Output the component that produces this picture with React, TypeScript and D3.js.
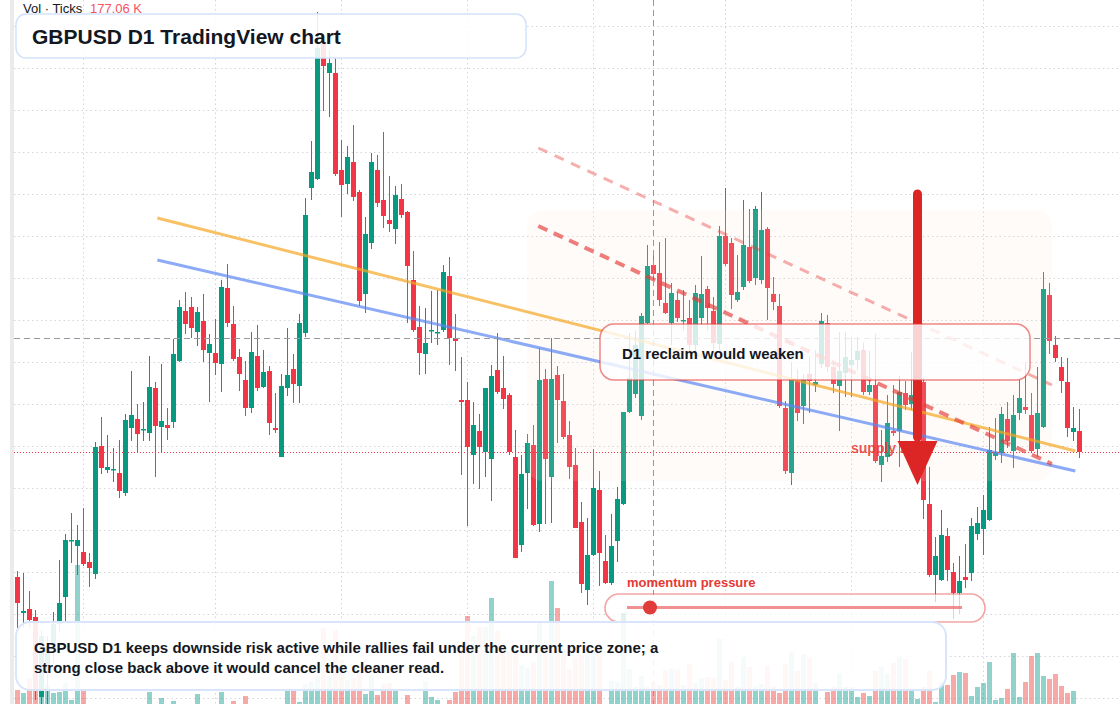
import * as d3 from 'd3';

// GBPUSD daily bars, oldest first
const opens = [
  1.2423,1.2387,1.2391,1.2383,1.2303,1.2328,1.2350,1.2376,1.2403,1.2459,
  1.2454,1.2448,1.2438,1.2426,1.2554,1.2530,1.2530,1.2527,1.2507,1.2572,
  1.2581,1.2570,1.2567,1.2612,1.2573,1.2575,1.2578,1.2639,1.2689,1.2693,
  1.2668,1.2679,1.2647,1.2647,1.2636,1.2712,1.2676,1.2643,1.2620,1.2592,
  1.2644,1.2613,1.2629,1.2572,1.2543,1.2612,1.2631,1.2614,1.2667,1.2812,
  1.2821,1.2956,1.2927,1.2927,1.2830,1.2816,1.2838,1.2808,1.2706,1.2757,
  1.2830,1.2800,1.2780,1.2771,1.2801,1.2788,1.2720,1.2673,1.2646,1.2669,
  1.2667,1.2670,1.2724,1.2662,1.2600,1.2600,1.2545,1.2569,1.2548,1.2541,
  1.2630,1.2612,1.2605,1.2543,1.2455,1.2527,1.2555,1.2476,1.2621,1.2523,
  1.2625,1.2599,1.2565,1.2535,1.2478,1.2410,1.2445,1.2510,1.2439,1.2417,
  1.2459,1.2496,1.2588,1.2606,1.2584,1.2677,1.2735,1.2727,1.2697,1.2677,
  1.2700,1.2679,1.2682,1.2655,1.2682,1.2711,1.2689,1.2656,1.2764,1.2757,
  1.2700,1.2713,1.2753,1.2722,1.2720,1.2771,1.2706,1.2694,1.2592,1.2527,
  1.2619,1.2594,1.2626,1.2615,1.2636,1.2677,1.2633,1.2614,1.2627,1.2635,
  1.2640,1.2650,1.2608,1.2615,1.2535,1.2543,1.2569,1.2569,1.2607,1.2596,
  1.2602,1.2618,1.2496,1.2425,1.2420,1.2464,1.2428,1.2407,1.2423,1.2427,
  1.2466,1.2471,1.2480,1.2544,1.2547,1.2581,1.2549,1.2587,1.2593,1.2585,
  1.2551,1.2573,1.2705,1.2655,1.2633,1.2618,1.2568,1.2569,
];
const highs = [
  1.2429,1.2427,1.2409,1.2390,1.2370,1.2364,1.2388,1.2440,1.2466,1.2487,
  1.2475,1.2492,1.2447,1.2558,1.2583,1.2565,1.2552,1.2560,1.2586,1.2629,
  1.2596,1.2598,1.2644,1.2618,1.2636,1.2592,1.2661,1.2700,1.2708,1.2703,
  1.2693,1.2706,1.2666,1.2681,1.2720,1.2736,1.2694,1.2651,1.2639,1.2668,
  1.2675,1.2650,1.2634,1.2607,1.2626,1.2672,1.2646,1.2686,1.2802,1.2859,
  1.2988,1.2960,1.2950,1.2942,1.2860,1.2854,1.2875,1.2810,1.2783,1.2847,
  1.2845,1.2868,1.2824,1.2814,1.2816,1.2789,1.2749,1.2694,1.2692,1.2709,
  1.2710,1.2735,1.2743,1.2686,1.2643,1.2618,1.2598,1.2586,1.2612,1.2635,
  1.2667,1.2644,1.2607,1.2570,1.2545,1.2566,1.2575,1.2652,1.2631,1.2662,
  1.2634,1.2626,1.2579,1.2552,1.2498,1.2482,1.2551,1.2529,1.2465,1.2486,
  1.2513,1.2588,1.2667,1.2670,1.2687,1.2755,1.2746,1.2758,1.2762,1.2717,
  1.2708,1.2710,1.2700,1.2715,1.2744,1.2714,1.2703,1.2774,1.2812,1.2762,
  1.2745,1.2800,1.2791,1.2794,1.2808,1.2773,1.2723,1.2706,1.2599,1.2638,
  1.2631,1.2626,1.2643,1.2650,1.2687,1.2685,1.2638,1.2668,1.2668,1.2663,
  1.2663,1.2657,1.2649,1.2666,1.2570,1.2605,1.2615,1.2624,1.2619,1.2648,
  1.2628,1.2622,1.2533,1.2463,1.2490,1.2472,1.2437,1.2444,1.2456,1.2482,
  1.2493,1.2505,1.2573,1.2582,1.2593,1.2598,1.2605,1.2620,1.2638,1.2607,
  1.2633,1.2728,1.2717,1.2664,1.2643,1.2642,1.2593,1.2591,
];
const lows = [
  1.2372,1.2372,1.2372,1.2300,1.2296,1.2296,1.2336,1.2368,1.2378,1.2437,
  1.2425,1.2434,1.2413,1.2421,1.2526,1.2527,1.2518,1.2502,1.2504,1.2559,
  1.2548,1.2559,1.2559,1.2523,1.2547,1.2560,1.2572,1.2638,1.2666,1.2662,
  1.2654,1.2638,1.2598,1.2625,1.2608,1.2673,1.2639,1.2609,1.2584,1.2587,
  1.2609,1.2612,1.2565,1.2567,1.2543,1.2604,1.2597,1.2597,1.2663,1.2800,
  1.2820,1.2889,1.2883,1.2824,1.2783,1.2806,1.2799,1.2694,1.2687,1.2751,
  1.2793,1.2772,1.2768,1.2756,1.2782,1.2677,1.2668,1.2625,1.2626,1.2657,
  1.2655,1.2668,1.2635,1.2629,1.2525,1.2474,1.2516,1.2511,1.2523,1.2499,
  1.2606,1.2591,1.2545,1.2442,1.2448,1.2491,1.2474,1.2468,1.2476,1.2477,
  1.2557,1.2561,1.2521,1.2472,1.2407,1.2395,1.2444,1.2414,1.2416,1.2415,
  1.2438,1.2495,1.2587,1.2602,1.2580,1.2676,1.2717,1.2694,1.2686,1.2655,
  1.2678,1.2670,1.2648,1.2648,1.2675,1.2670,1.2650,1.2650,1.2734,1.2691,
  1.2698,1.2710,1.2717,1.2715,1.2716,1.2680,1.2690,1.2592,1.2526,1.2515,
  1.2579,1.2576,1.2587,1.2608,1.2632,1.2628,1.2607,1.2569,1.2603,1.2603,
  1.2630,1.2605,1.2605,1.2537,1.2518,1.2538,1.2564,1.2533,1.2590,1.2590,
  1.2580,1.2481,1.2423,1.2398,1.2419,1.2419,1.2381,1.2386,1.2412,1.2419,
  1.2460,1.2445,1.2479,1.2540,1.2537,1.2552,1.2532,1.2580,1.2586,1.2547,
  1.2543,1.2572,1.2646,1.2638,1.2607,1.2563,1.2559,1.2542,
];
const closes = [
  1.2397,1.2389,1.2380,1.2310,1.2364,1.2354,1.2376,1.2397,1.2460,1.2460,
  1.2460,1.2436,1.2432,1.2553,1.2532,1.2533,1.2531,1.2509,1.2580,1.2585,
  1.2566,1.2571,1.2613,1.2574,1.2579,1.2572,1.2646,1.2693,1.2676,1.2672,
  1.2688,1.2650,1.2656,1.2637,1.2713,1.2677,1.2641,1.2626,1.2592,1.2648,
  1.2612,1.2628,1.2577,1.2570,1.2614,1.2625,1.2616,1.2677,1.2785,1.2828,
  1.2952,1.2934,1.2937,1.2826,1.2815,1.2843,1.2803,1.2699,1.2766,1.2838,
  1.2797,1.2784,1.2776,1.2805,1.2785,1.2734,1.2670,1.2647,1.2657,1.2670,
  1.2668,1.2728,1.2662,1.2659,1.2598,1.2553,1.2575,1.2553,1.2612,1.2624,
  1.2608,1.2601,1.2548,1.2442,1.2526,1.2557,1.2475,1.2620,1.2541,1.2621,
  1.2600,1.2563,1.2533,1.2472,1.2416,1.2445,1.2512,1.2447,1.2417,1.2454,
  1.2501,1.2588,1.2622,1.2655,1.2684,1.2734,1.2726,1.2700,1.2687,1.2707,
  1.2682,1.2680,1.2655,1.2707,1.2706,1.2692,1.2657,1.2764,1.2736,1.2705,
  1.2708,1.2755,1.2719,1.2791,1.2770,1.2712,1.2698,1.2594,1.2529,1.2621,
  1.2587,1.2621,1.2619,1.2618,1.2679,1.2633,1.2616,1.2629,1.2643,1.2640,
  1.2649,1.2608,1.2615,1.2539,1.2544,1.2577,1.2567,1.2608,1.2595,1.2605,
  1.2614,1.2500,1.2425,1.2444,1.2465,1.2430,1.2407,1.2419,1.2420,1.2474,
  1.2477,1.2490,1.2550,1.2548,1.2586,1.2559,1.2585,1.2602,1.2590,1.2549,
  1.2587,1.2711,1.2659,1.2642,1.2619,1.2572,1.2572,1.2548,
];
// tick volume, thousands
const volumes = [
  52,46,76,52,70,62,46,48,66,32,
  302,52,16,20,14,18,12,16,20,14,
  18,12,48,18,36,14,30,20,16,18,
  44,16,14,18,48,16,30,18,40,16,
  18,14,20,16,22,52,52,28,64,70,
  80,176,80,172,112,72,76,88,44,80,
  42,64,66,52,20,42,18,20,70,38,
  32,20,32,48,142,200,160,178,178,236,
  170,138,128,126,102,96,108,188,140,270,
  216,134,94,116,122,134,128,146,18,70,
  68,206,94,58,80,58,68,62,92,94,
  92,62,104,66,76,78,76,154,72,108,
  58,118,98,60,64,102,60,46,104,128,
  90,124,116,66,18,48,58,86,58,58,
  38,46,40,90,98,86,106,118,114,50,
  34,58,90,28,68,62,82,88,86,40,
  58,66,108,32,36,54,126,38,68,120,
  126,80,74,84,60,46,50,16,
];

// bar index where each new month begins
const monthStarts = [11, 33, 54, 75, 96, 118, 139, 161];

// drawn levels as [bar index, price]
const orangeTrend = [[23.3, 1.2782], [176.3, 1.2549]];
const blueTrend = [[23.3, 1.2740], [176.3, 1.2529]];
const channelTop = [[86.8, 1.2852], [172.4, 1.2615]];
const channelMid = [[86.8, 1.2774], [172.4, 1.2536]];
const zoneSpan = [84.9, 172.4];
const zonePrices = [1.2790, 1.2519];
const crossIndex = 106;
const crossPrice = 1.2662;
const arrowIndex = 150;
const arrowPrices = [1.2806, 1.2559, 1.2515];

const W = 1120;
const H = 704;
const UP = '#089981';
const DOWN = '#f23645';
const FONT = '"Liberation Sans", Arial, sans-serif';
const INK = '#131722';

export default function App() {
  const x = d3.scaleLinear().domain([0, 177]).range([17.5, 1079.5]);
  const y = d3.scaleLinear().domain([1.2, 1.3]).range([1000, 0]);
  const v = d3.scaleLinear().domain([0, 320]).range([716, 556]);
  const line = d3.line<number[]>().x(d => x(d[0])).y(d => y(d[1]));

  const bars = opens.map((o, i) => ({ i, o, h: highs[i], l: lows[i], c: closes[i], vol: volumes[i] }));
  const gridPrices = d3.range(17).map(k => 1.2974 - k * 0.0042);
  const last = closes[closes.length - 1];

  const ax = x(arrowIndex);
  const headW = 20;

  return (
    <svg width={W} height={H} style={{ position: 'absolute', left: 0, top: 0, background: '#fff' }}
      fontFamily={FONT}>
      <rect x={10} y={0} width={4} height={H} fill="#ebebeb" />

      {/* grid */}
      <g stroke="#d3d5da" strokeWidth={1} strokeDasharray="1.5 3">
        {gridPrices.map(p => (
          <line key={p} x1={14} x2={W} y1={Math.round(y(p)) + 0.5} y2={Math.round(y(p)) + 0.5} />
        ))}
        {monthStarts.map(m => (
          <line key={m} x1={x(m)} x2={x(m)} y1={0} y2={H} />
        ))}
      </g>

      {/* volume */}
      <g>
        {bars.map(b => (
          <rect key={b.i} x={x(b.i) - 2.5} width={5} y={v(b.vol)} height={v(0) - v(b.vol)}
            fill={b.c >= b.o ? 'rgba(38,166,154,0.5)' : 'rgba(239,83,80,0.5)'} />
        ))}
      </g>

      {/* candles */}
      <g>
        {bars.map(b => {
          const col = b.c >= b.o ? UP : DOWN;
          const top = y(Math.max(b.o, b.c));
          const bh = Math.max(1.5, Math.abs(y(b.o) - y(b.c)));
          return (
            <g key={b.i}>
              <line x1={x(b.i)} x2={x(b.i)} y1={y(b.h)} y2={y(b.l)} stroke={col} strokeWidth={1} />
              <rect x={x(b.i) - 2.5} width={5} y={top} height={bh} fill={col} />
            </g>
          );
        })}
      </g>

      {/* supply zone tint */}
      <rect x={x(zoneSpan[0])} y={y(zonePrices[0])} width={x(zoneSpan[1]) - x(zoneSpan[0])}
        height={y(zonePrices[1]) - y(zonePrices[0])} rx={16} fill="rgb(250,225,215)" opacity={0.14} />

      {/* trend lines */}
      <path d={line(orangeTrend) ?? ''} stroke="#f5a623" strokeOpacity={0.7} strokeWidth={3} fill="none" />
      <path d={line(blueTrend) ?? ''} stroke="#5b86f2" strokeOpacity={0.7} strokeWidth={3} fill="none" />
      <path d={line(channelTop) ?? ''} stroke="#e53935" strokeOpacity={0.4} strokeWidth={3}
        strokeDasharray="10 8" fill="none" />
      <path d={line(channelMid) ?? ''} stroke="#e53935" strokeOpacity={0.65} strokeWidth={4}
        strokeDasharray="10 7" fill="none" />

      {/* last price and crosshair */}
      <line x1={14} x2={W} y1={Math.round(y(last)) + 0.5} y2={Math.round(y(last)) + 0.5}
        stroke={DOWN} strokeWidth={1} strokeDasharray="1 2" />
      <g stroke="#9598a1" strokeWidth={1} strokeDasharray="6 4">
        <line x1={14} x2={W} y1={Math.round(y(crossPrice)) + 0.5} y2={Math.round(y(crossPrice)) + 0.5} />
        <line x1={x(crossIndex)} x2={x(crossIndex)} y1={0} y2={H} />
      </g>

      <text x={851} y={453} fontSize={14} fontWeight="bold" fill="#e53935" fillOpacity={0.85}>supply zone</text>

      {/* downside arrow */}
      <line x1={ax} x2={ax} y1={y(arrowPrices[0])} y2={y(arrowPrices[1]) - 4} stroke="#dc2626"
        strokeWidth={9} strokeLinecap="round" />
      <path d={`M${ax - headW},${y(arrowPrices[1])}L${ax + headW},${y(arrowPrices[1])}L${ax},${y(arrowPrices[2])}Z`}
        fill="#dc2626" />

      {/* reclaim note */}
      <rect x={600} y={324} width={430} height={56} rx={14} fill="rgba(255,255,255,0.8)"
        stroke="rgba(229,57,53,0.6)" strokeWidth={1.5} />
      <text x={622} y={359} fontSize={15} fontWeight="bold" fill={INK}>D1 reclaim would weaken</text>

      {/* momentum gauge */}
      <text x={627} y={587} fontSize={13} fontWeight="bold" fill="#e53935">momentum pressure</text>
      <rect x={605} y={594} width={380} height={28} rx={14} fill="rgba(255,255,255,0.72)"
        stroke="rgba(229,57,53,0.45)" strokeWidth={1.6} />
      <line x1={627} x2={962} y1={607.5} y2={607.5} stroke="#ef7c7c" strokeWidth={3} strokeOpacity={0.85} />
      <circle cx={650} cy={607.5} r={7} fill="#e23b3b" />

      {/* summary */}
      <rect x={16} y={622} width={930} height={68} rx={14} fill="rgba(255,255,255,0.9)"
        stroke="#d8e5fb" strokeWidth={2} />
      <text fontSize={15} fontWeight="bold" fill={INK}>
        <tspan x={34} y={653}>GBPUSD D1 keeps downside risk active while rallies fail under the current price zone; a</tspan>
        <tspan x={34} y={673}>strong close back above it would cancel the cleaner read.</tspan>
      </text>

      {/* title */}
      <rect x={16} y={14} width={510} height={44} rx={10} fill="rgba(255,255,255,0.88)"
        stroke="#d2e2fb" strokeWidth={1.5} />
      <text x={32} y={44} fontSize={21} fontWeight="bold" fill={INK}>GBPUSD D1 TradingView chart</text>

      <text x={23} y={13} fontSize={13} fill={INK}>Vol · Ticks</text>
      <text x={90} y={13} fontSize={13} fill="#f7525f">177.06 K</text>
    </svg>
  );
}
